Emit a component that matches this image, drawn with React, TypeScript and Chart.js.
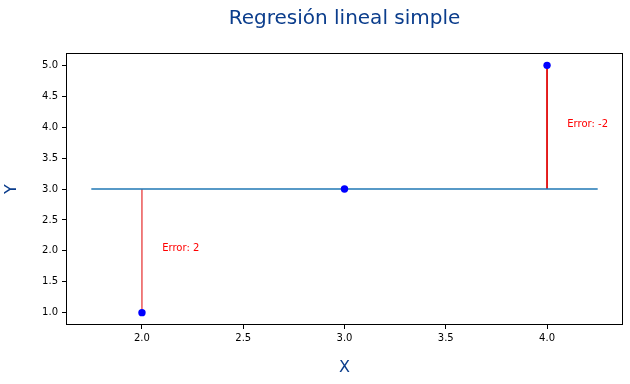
import React, { useEffect, useRef } from 'react';
import { Chart, registerables } from 'chart.js';

Chart.register(...registerables);

// ---- data ----
const xValues = [2, 3, 4];
const yValues = [1, 3, 5];
const predictedY = [3, 3, 3];
const fitLineX = [1.75, 4.25];
const fitLineY = [3, 3];
const errorTextX = [2.1, 4.1];
const errorTextY = [2.0, 4.0];
const errorTexts = ['Error: 2', 'Error: -2'];
const xTicks = [2.0, 2.5, 3.0, 3.5, 4.0];
const yTicks = [1.0, 1.5, 2.0, 2.5, 3.0, 3.5, 4.0, 4.5, 5.0];
const xRange = [1.625, 4.375];
const yRange = [0.8, 5.2];
const titleText = 'Regresión lineal simple';
const xLabel = 'X';
const yLabel = 'Y';

const FONT = '"DejaVu Sans", sans-serif';
const TITLE_COLOR = '#0b3d8c';

export default function App() {
  const ref = useRef<HTMLCanvasElement | null>(null);

  useEffect(() => {
    if (!ref.current) return;

    const errorDatasets = xValues
      .map((x, i) => ({ x, y: yValues[i], p: predictedY[i] }))
      .filter((d) => d.y !== d.p)
      .map((d) => ({
        type: 'line' as const,
        data: [
          { x: d.x, y: d.y },
          { x: d.x, y: d.p },
        ],
        borderColor: '#e00000',
        borderWidth: 1,
        pointRadius: 0,
        showLine: true,
        fill: false,
        order: 2,
      }));

    const overlay = {
      id: 'overlay',
      afterDatasetsDraw(chart: any) {
        const { ctx, scales } = chart;
        ctx.save();
        ctx.fillStyle = '#ff0000';
        ctx.font = `10px ${FONT}`;
        ctx.textAlign = 'left';
        ctx.textBaseline = 'alphabetic';
        errorTexts.forEach((t, i) => {
          ctx.fillText(t, scales.x.getPixelForValue(errorTextX[i]), scales.y.getPixelForValue(errorTextY[i]));
        });
        ctx.restore();
      },
      afterDraw(chart: any) {
        const { ctx, chartArea } = chart;
        ctx.save();
        ctx.strokeStyle = '#000';
        ctx.lineWidth = 1;
        ctx.strokeRect(
          Math.round(chartArea.left) + 0.5,
          Math.round(chartArea.top) + 0.5,
          Math.round(chartArea.right - chartArea.left) - 1,
          Math.round(chartArea.bottom - chartArea.top) - 1
        );
        const cx = (chartArea.left + chartArea.right) / 2;
        ctx.fillStyle = TITLE_COLOR;
        ctx.textAlign = 'center';
        ctx.textBaseline = 'alphabetic';
        ctx.font = `20px ${FONT}`;
        ctx.fillText(titleText, cx, 24);
        ctx.font = `16px ${FONT}`;
        ctx.textBaseline = 'middle';
        ctx.fillText(xLabel, cx, 368);
        ctx.translate(12, (chartArea.top + chartArea.bottom) / 2);
        ctx.rotate(-Math.PI / 2);
        ctx.fillText(yLabel, 0, 0);
        ctx.restore();
      },
    };

    const chart = new Chart(ref.current, {
      type: 'scatter',
      data: {
        datasets: [
          {
            type: 'scatter',
            data: xValues.map((x, i) => ({ x, y: yValues[i] })),
            backgroundColor: '#0000ff',
            borderColor: '#0000ff',
            borderWidth: 0,
            pointRadius: 3.7,
            order: 0,
          },
          ...errorDatasets,
          {
            type: 'line',
            data: fitLineX.map((x, i) => ({ x, y: fitLineY[i] })),
            borderColor: '#1f77b4',
            borderWidth: 1.5,
            pointRadius: 0,
            showLine: true,
            fill: false,
            order: 1,
          },
        ] as any,
      },
      options: {
        animation: false,
        responsive: false,
        maintainAspectRatio: false,
        layout: { padding: { left: 0, right: 7, top: 53, bottom: 0 } },
        plugins: {
          legend: { display: false },
          title: { display: false },
          tooltip: { enabled: false },
        },
        scales: {
          x: {
            type: 'linear',
            min: xRange[0],
            max: xRange[1],
            afterBuildTicks: (s: any) => {
              s.ticks = xTicks.map((v) => ({ value: v }));
            },
            afterFit: (s: any) => {
              s.height = 59;
            },
            ticks: {
              color: '#000',
              font: { family: FONT, size: 10 },
              padding: 3,
              maxRotation: 0,
              autoSkip: false,
              callback: (v: any) => Number(v).toFixed(1),
            },
            grid: { display: true, drawOnChartArea: false, drawTicks: true, tickLength: 4, color: '#000' },
            border: { display: false },
          },
          y: {
            type: 'linear',
            min: yRange[0],
            max: yRange[1],
            afterBuildTicks: (s: any) => {
              s.ticks = yTicks.map((v) => ({ value: v }));
            },
            afterFit: (s: any) => {
              s.width = 66;
            },
            ticks: {
              color: '#000',
              font: { family: FONT, size: 10 },
              padding: 4,
              autoSkip: false,
              callback: (v: any) => Number(v).toFixed(1),
            },
            grid: { display: true, drawOnChartArea: false, drawTicks: true, tickLength: 4, color: '#000' },
            border: { display: false },
          },
        },
      },
      plugins: [overlay],
    } as any);

    return () => chart.destroy();
  }, []);

  return (
    <div style={{ position: 'absolute', left: 0, top: 0, width: 630, height: 384, background: '#fff' }}>
      <canvas ref={ref} width={630} height={384} style={{ display: 'block' }} />
    </div>
  );
}
